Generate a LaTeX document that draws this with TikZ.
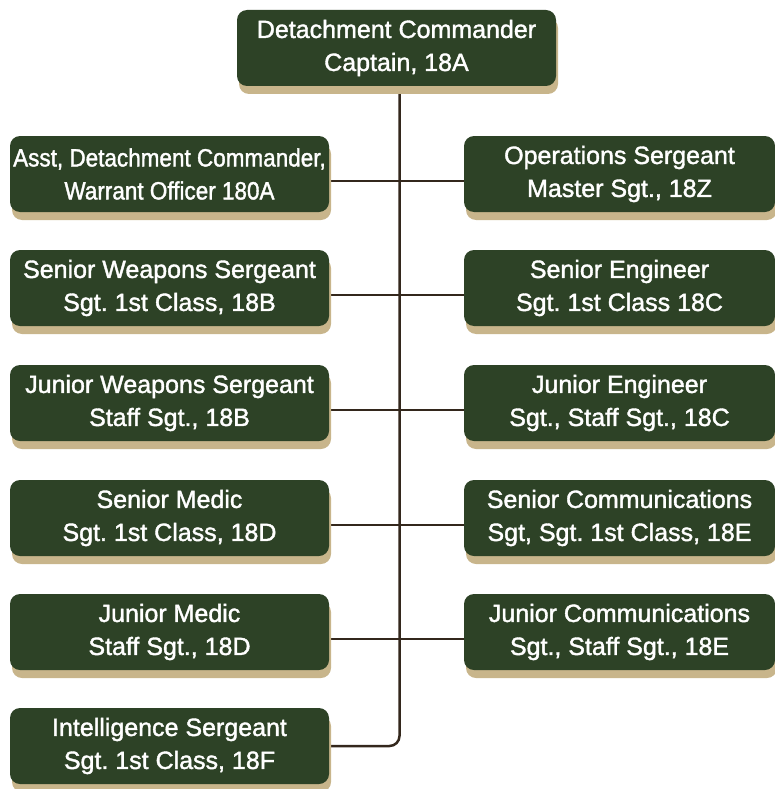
\documentclass[tikz,border=0pt]{standalone}
\usepackage{fontspec}
\setmainfont{Liberation Sans}[FakeBold=1.5]
\newfontfamily\narrowfont{Liberation Sans}[FakeBold=1.5, FakeStretch=0.9]
\usepackage{xcolor}
\usetikzlibrary{shadows,backgrounds,positioning}
\definecolor{armygreen}{HTML}{2D4226}
\definecolor{khaki}{HTML}{C8B58B}
\definecolor{linebrown}{HTML}{33271C}
\frenchspacing

\begin{document}
\begin{tikzpicture}[x=1pt, y=-1pt,
    rolebox/.style={rounded corners=10pt, fill=armygreen, text=white, align=center,
        minimum height=76pt, inner sep=0pt, font=\fontsize{25}{33}\selectfont,
        drop shadow={shadow xshift=2pt, shadow yshift=-8pt, fill=khaki, opacity=1}},
    leftbox/.style={rolebox, minimum width=319pt},
    rightbox/.style={rolebox, minimum width=311pt},
    link/.style={draw=linebrown, line width=2.5pt}]

\useasboundingbox (0,0) rectangle (775,789);

% Commander at the top
\node[leftbox] (cmd) at (396.5,48) {Detachment Commander\\Captain, 18A};

% Left column
\node[leftbox, font=\narrowfont\fontsize{25}{33}\selectfont] (l1) at (169.5,174) {Asst, Detachment Commander,\\Warrant Officer 180A};
\node[leftbox] (l2) at (169.5,288) {Senior Weapons Sergeant\\Sgt. 1st Class, 18B};
\node[leftbox] (l3) at (169.5,403) {Junior Weapons Sergeant\\Staff Sgt., 18B};
\node[leftbox] (l4) at (169.5,518) {Senior Medic\\Sgt. 1st Class, 18D};
\node[leftbox] (l5) at (169.5,632) {Junior Medic\\Staff Sgt., 18D};
\node[leftbox] (l6) at (169.5,746) {Intelligence Sergeant\\Sgt. 1st Class, 18F};

% Right column
\node[rightbox] (r1) at (619.5,174) {Operations Sergeant\\Master Sgt., 18Z};
\node[rightbox] (r2) at (619.5,288) {Senior Engineer\\Sgt. 1st Class 18C};
\node[rightbox] (r3) at (619.5,403) {Junior Engineer\\Sgt., Staff Sgt., 18C};
\node[rightbox] (r4) at (619.5,518) {Senior Communications\\Sgt, Sgt. 1st Class, 18E};
\node[rightbox] (r5) at (619.5,632) {Junior Communications\\Sgt., Staff Sgt., 18E};

% Connectors behind the boxes
\begin{scope}[on background layer]
\draw[link, rounded corners=10pt] ([xshift=3pt]cmd.south) |- (l6.east);
\foreach \i in {1,...,5} {
    \draw[link] ([yshift=-7pt]l\i.east) -- ([yshift=-7pt]r\i.west);
}
\end{scope}

\end{tikzpicture}
\end{document}
